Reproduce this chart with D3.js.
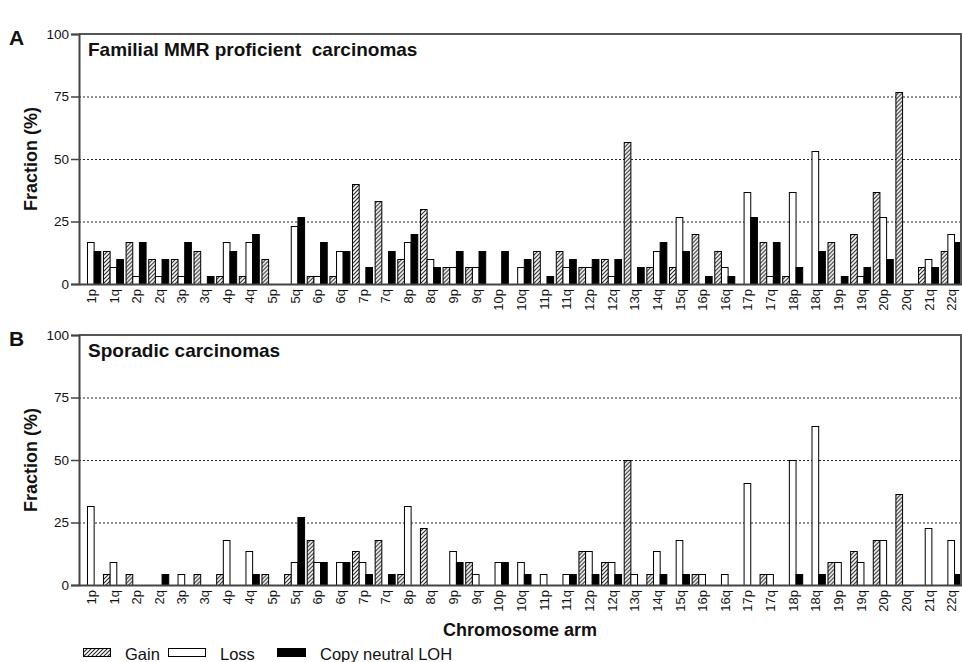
<!DOCTYPE html>
<html>
<head>
<meta charset="utf-8">
<script src="https://cdn.jsdelivr.net/npm/d3@7"></script>
<style>
  body { margin: 0; background: #fff; }
  text { font-family: "Liberation Sans", Arial, sans-serif; fill: #111; }
</style>
</head>
<body>
<div id="chart"></div>
<script>
// chromosome arms on the x axis
var arms = ["1p","1q","2p","2q","3p","3q","4p","4q","5p","5q","6p","6q","7p","7q","8p","8q","9p","9q","10p","10q",
  "11p","11q","12p","12q","13q","14q","15q","16p","16q","17p","17q","18p","18q","19p","19q","20p","20q","21q","22q"];

var seriesNames = ["Gain", "Loss", "Copy neutral LOH"];
var yTicks = [0, 25, 50, 75, 100];

// panel A: familial MMR proficient carcinomas (%)
var familialGain = [0,13.3,16.7,10,10,13.3,3.3,3.3,10,0, 3.3,3.3,40,33.3,10,30,6.7,6.7,0,0,
  13.3,13.3,6.7,10,56.7,6.7,6.7,20,13.3,0, 16.7,3.3,0,16.7,20,36.7,76.7,6.7,13.3];
var familialLoss = [16.7,6.7,3.3,3.3,3.3,0,16.7,16.7,0,23.3, 3.3,13.3,0,0,16.7,10,6.7,6.7,0,6.7,
  0,6.7,6.7,3.3,0,13.3,26.7,0,6.7,36.7, 3.3,36.7,53.3,0,3.3,26.7,0,10,20];
var familialLoh = [13.3,10,16.7,10,16.7,3.3,13.3,20,0,26.7, 16.7,13.3,6.7,13.3,20,6.7,13.3,13.3,13.3,10,
  3.3,10,10,10,6.7,16.7,13.3,3.3,3.3,26.7, 16.7,6.7,13.3,3.3,6.7,10,0,6.7,16.7];

// panel B: sporadic carcinomas (%)
var sporadicGain = [0,4.5,4.5,0,0,4.5,4.5,0,4.5,4.5, 18.2,0,13.6,18.2,4.5,22.7,0,9.1,0,0,
  0,0,13.6,9.1,50,4.5,0,4.5,0,0, 4.5,0,0,9.1,13.6,18.2,36.4,0,0];
var sporadicLoss = [31.8,9.1,0,0,4.5,0,18.2,13.6,0,9.1, 9.1,9.1,9.1,0,31.8,0,13.6,4.5,9.1,9.1,
  4.5,4.5,13.6,9.1,4.5,13.6,18.2,4.5,4.5,40.9, 4.5,50,63.6,9.1,9.1,18.2,0,22.7,18.2];
var sporadicLoh = [0,0,0,4.5,0,0,0,4.5,0,27.3, 9.1,9.1,4.5,4.5,0,0,9.1,0,9.1,4.5,
  0,4.5,4.5,4.5,0,4.5,4.5,0,0,0, 0,4.5,4.5,0,0,0,0,0,4.5];

var svgWidth = 962;
var svgHeight = 662;

var svg = d3.select("#chart")
  .append("svg")
  .attr("width", svgWidth)
  .attr("height", svgHeight);

// hatch pattern for gain bars
var defs = svg.append("defs");
var hatch = defs.append("pattern")
  .attr("id", "hatch")
  .attr("patternUnits", "userSpaceOnUse")
  .attr("width", 4)
  .attr("height", 4);
hatch.append("rect").attr("width", 4).attr("height", 4).attr("fill", "#fff");
hatch.append("path")
  .attr("d", "M-1,1 l2,-2 M0,4 l4,-4 M3,5 l2,-2")
  .attr("stroke", "#222")
  .attr("stroke-width", 1.1);

var fills = ["url(#hatch)", "#fff", "#000"];

var plotLeft = 79;
var plotRight = 961;

var xScale = d3.scaleBand()
  .domain(arms)
  .range([plotLeft, plotRight + 1])
  .paddingInner(0.117)
  .paddingOuter(0.058);

var xSub = d3.scaleBand()
  .domain(seriesNames)
  .range([0, xScale.bandwidth()]);

function drawPanel(letter, title, top, bottom, gain, loss, loh) {
  var yScale = d3.scaleLinear().domain([0, 100]).range([bottom, top]);
  var g = svg.append("g");

  // dotted grid lines
  g.selectAll(".grid")
    .data([25, 50, 75])
    .enter()
    .append("line")
    .attr("x1", plotLeft)
    .attr("x2", plotRight)
    .attr("y1", d => yScale(d) + 0.5)
    .attr("y2", d => yScale(d) + 0.5)
    .attr("stroke", "#222")
    .attr("stroke-width", 1)
    .attr("stroke-dasharray", "2,2");

  // bars
  var rows = arms.map(function(arm, i) {
    return { arm: arm, values: [gain[i], loss[i], loh[i]] };
  });
  var groups = g.selectAll(".arm")
    .data(rows)
    .enter()
    .append("g")
    .attr("transform", d => `translate(${xScale(d.arm)},0)`);

  groups.selectAll("rect")
    .data(d => d.values.map((v, j) => ({ key: seriesNames[j], value: v, j: j })).filter(d => d.value > 0))
    .enter()
    .append("rect")
    .attr("x", d => xSub(d.key) + 0.5)
    .attr("y", d => Math.round(yScale(d.value)) + 0.5)
    .attr("width", xSub.bandwidth())
    .attr("height", d => bottom - Math.round(yScale(d.value)))
    .attr("fill", d => fills[d.j])
    .attr("stroke", "#000")
    .attr("stroke-width", 1);

  // frame top and right
  g.append("path")
    .attr("d", `M${plotLeft},${top}H${plotRight}V${bottom}`)
    .attr("fill", "none")
    .attr("stroke", "#555")
    .attr("stroke-width", 2);

  // y axis
  var leftAxis = d3.axisLeft(yScale).tickValues(yTicks).tickSize(8).tickPadding(2);
  var yAxis = g.append("g")
    .attr("transform", `translate(${plotLeft},0)`)
    .call(leftAxis);
  yAxis.select(".domain").attr("stroke", "#444").attr("stroke-width", 2);
  yAxis.selectAll(".tick line").attr("stroke", "#444").attr("stroke-width", 1.5);
  yAxis.selectAll(".tick text")
    .attr("font-size", 13.5)
    .attr("font-family", "Liberation Sans, Arial, sans-serif")
    .attr("fill", "#222");

  // x axis
  var bottomAxis = d3.axisBottom(xScale).tickSize(0).tickPadding(5);
  var xAxis = g.append("g")
    .attr("transform", `translate(0,${bottom})`)
    .call(bottomAxis);
  xAxis.select(".domain").attr("stroke", "#444").attr("stroke-width", 2);
  xAxis.selectAll(".tick text")
    .attr("font-size", 13)
    .attr("font-family", "Liberation Sans, Arial, sans-serif")
    .attr("fill", "#222")
    .attr("text-anchor", "end")
    .attr("transform", "rotate(-90)")
    .attr("x", -5)
    .attr("y", 1)
    .attr("dy", "0.35em");

  // y axis title
  g.append("text")
    .attr("transform", `translate(37,${(top + bottom) / 2}) rotate(-90)`)
    .attr("text-anchor", "middle")
    .attr("font-size", 18)
    .attr("font-weight", "bold")
    .text("Fraction (%)");

  // panel title and letter
  g.append("text")
    .attr("x", 88)
    .attr("y", top + 22)
    .attr("font-size", 19)
    .attr("font-weight", "bold")
    .style("white-space", "pre")
    .text(title);

  g.append("text")
    .attr("x", 9)
    .attr("y", top + 11)
    .attr("font-size", 21)
    .attr("font-weight", "bold")
    .text(letter);
}

drawPanel("A", "Familial MMR proficient  carcinomas", 34, 284, familialGain, familialLoss, familialLoh);
drawPanel("B", "Sporadic carcinomas", 335, 585, sporadicGain, sporadicLoss, sporadicLoh);

// x axis title
svg.append("text")
  .attr("x", (plotLeft + plotRight) / 2)
  .attr("y", 636)
  .attr("text-anchor", "middle")
  .attr("font-size", 18)
  .attr("font-weight", "bold")
  .text("Chromosome arm");

// legend
var legendItems = [
  { name: seriesNames[0], x: 83, w: 27, tx: 125 },
  { name: seriesNames[1], x: 168, w: 37, tx: 220 },
  { name: seriesNames[2], x: 277, w: 28, tx: 320 }
];
var legend = svg.append("g");
legend.selectAll("rect")
  .data(legendItems)
  .enter()
  .append("rect")
  .attr("x", d => d.x + 0.5)
  .attr("y", 648.5)
  .attr("width", d => d.w)
  .attr("height", 8)
  .attr("fill", (d, i) => fills[i])
  .attr("stroke", "#000");
legend.selectAll("text")
  .data(legendItems)
  .enter()
  .append("text")
  .attr("x", d => d.tx)
  .attr("y", 660)
  .attr("font-size", 16.5)
  .text(d => d.name);
</script>
</body>
</html>
